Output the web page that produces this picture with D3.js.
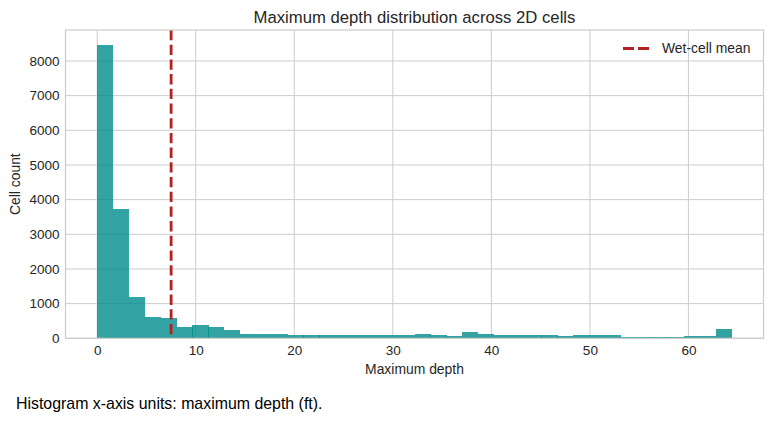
<!DOCTYPE html>
<html>
<head>
<meta charset="utf-8">
<script src="https://cdn.jsdelivr.net/npm/d3@7"></script>
<style>
  body { margin: 0; background: #fff; }
  svg text { font-family: "Liberation Sans", Arial, sans-serif; fill: #262626; }
</style>
</head>
<body>
<div class="chart"></div>
<script>
// histogram bins (40 equal bins from 0 to maxDepth)
const minDepth = 0;
const maxDepth = 64.4;
const counts = [
  8470, 3720, 1190, 610, 580, 320, 380, 315, 230, 115,
  115, 115, 85, 85, 85, 85, 85, 85, 85, 85,
  110, 85, 75, 170, 115, 85, 85, 85, 85, 60,
  85, 85, 85, 30, 30, 30, 30, 60, 60, 260
];
const wetMean = 7.5;
const xTicks = [0, 10, 20, 30, 40, 50, 60];
const yTicks = [0, 1000, 2000, 3000, 4000, 5000, 6000, 7000, 8000];

const W = 772, H = 424;
const m = { left: 65.5, right: 8.5, top: 30, bottom: 85.7 };

const binW = (maxDepth - minDepth) / counts.length;
const bins = counts.map((c, i) => ({ x0: minDepth + i * binW, x1: minDepth + (i + 1) * binW, n: c }));

const pad = (maxDepth - minDepth) * 0.05;
const x = d3.scaleLinear().domain([minDepth - pad, maxDepth + pad]).range([m.left, W - m.right]);
const yMax = d3.max(counts) * 1.05;
const y = d3.scaleLinear().domain([0, yMax]).range([H - m.bottom, m.top]);

const svg = d3.select('.chart').append('svg')
  .attr('width', W).attr('height', H);

// grid
svg.append('g')
  .selectAll('line')
  .data(xTicks)
  .join('line')
    .attr('x1', d => x(d)).attr('x2', d => x(d))
    .attr('y1', m.top).attr('y2', H - m.bottom)
    .attr('stroke', '#cccccc').attr('stroke-width', 1);
svg.append('g')
  .selectAll('line')
  .data(yTicks)
  .join('line')
    .attr('x1', m.left).attr('x2', W - m.right)
    .attr('y1', d => y(d)).attr('y2', d => y(d))
    .attr('stroke', '#cccccc').attr('stroke-width', 1);

// bars
svg.append('g')
  .selectAll('rect')
  .data(bins)
  .join('rect')
    .attr('x', d => x(d.x0))
    .attr('width', d => x(d.x1) - x(d.x0) + 0.3)
    .attr('y', d => y(d.n))
    .attr('height', d => y(0) - y(d.n))
    .attr('fill', 'darkcyan')
    .attr('fill-opacity', 0.8)
    .attr('shape-rendering', 'crispEdges');

// mean line
svg.append('line')
  .attr('x1', x(wetMean)).attr('x2', x(wetMean))
  .attr('y1', m.top).attr('y2', H - m.bottom)
  .attr('stroke', '#b22222').attr('stroke-width', 2.8)
  .attr('stroke-dasharray', '10.3,4.4');

// frame
svg.append('rect')
  .attr('x', m.left).attr('y', m.top)
  .attr('width', W - m.left - m.right).attr('height', H - m.top - m.bottom)
  .attr('fill', 'none').attr('stroke', '#cccccc').attr('stroke-width', 1.2);

// axes (labels only, as in whitegrid style)
const xAxis = svg.append('g')
  .attr('transform', `translate(0,${H - m.bottom})`)
  .call(d3.axisBottom(x).tickValues(xTicks).tickSize(0).tickPadding(7));
xAxis.select('.domain').remove();
xAxis.selectAll('text').attr('font-size', 13.5).attr('font-family', '"Liberation Sans", Arial, sans-serif');

const yAxis = svg.append('g')
  .attr('transform', `translate(${m.left},0)`)
  .call(d3.axisLeft(y).tickValues(yTicks).tickFormat(d3.format('d')).tickSize(0).tickPadding(6));
yAxis.select('.domain').remove();
yAxis.selectAll('text').attr('font-size', 13.5).attr('font-family', '"Liberation Sans", Arial, sans-serif');

// title and labels
svg.append('text')
  .attr('x', (m.left + W - m.right) / 2).attr('y', 23)
  .attr('text-anchor', 'middle').attr('font-size', 16.7)
  .text('Maximum depth distribution across 2D cells');

svg.append('text')
  .attr('x', (m.left + W - m.right) / 2).attr('y', 374)
  .attr('text-anchor', 'middle').attr('font-size', 13.9)
  .text('Maximum depth');

svg.append('text')
  .attr('transform', `translate(20,${(m.top + H - m.bottom) / 2}) rotate(-90)`)
  .attr('text-anchor', 'middle').attr('font-size', 13.9)
  .text('Cell count');

// legend
const lg = svg.append('g').attr('transform', 'translate(623,48.5)');
lg.append('line')
  .attr('x1', 0).attr('x2', 26).attr('y1', 0).attr('y2', 0)
  .attr('stroke', '#b22222').attr('stroke-width', 2.8)
  .attr('stroke-dasharray', '11,4');
lg.append('text')
  .attr('x', 39).attr('y', 4.5).attr('font-size', 13.9)
  .text('Wet-cell mean');

// footnote
svg.append('text')
  .attr('x', 16).attr('y', 409).attr('font-size', 15.9)
  .style('fill', '#000')
  .text('Histogram x-axis units: maximum depth (ft).');
</script>
</body>
</html>
